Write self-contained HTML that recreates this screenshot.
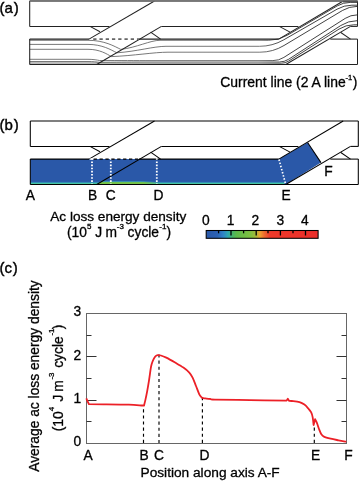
<!DOCTYPE html>
<html><head><meta charset="utf-8"><style>
html,body{margin:0;padding:0;background:#fff;}
body{width:359px;height:481px;overflow:hidden;font-family:"Liberation Sans",sans-serif;}
svg{display:block;}
#w{will-change:transform;width:359px;height:481px;}
</style></head><body><div id="w">
<svg width="359" height="481" viewBox="0 0 359 481">
<defs><linearGradient id="cl" gradientUnits="userSpaceOnUse" x1="0" y1="0" x2="359" y2="0"><stop offset="0" stop-color="#555"/><stop offset="0.72" stop-color="#555"/><stop offset="0.8" stop-color="#111"/><stop offset="1" stop-color="#111"/></linearGradient></defs>
<g stroke="url(#cl)" stroke-width="0.8" fill="none">
<path d="M29.7,40.3 L88,40.3 C104.4,40.3 114.2,46.2 120.8,49.4 C136.5,47.6 150.2,40.3 160,40.3 L268.7,40.3 Q278.7,40.3 287.4,35.2 L337.2,5.9 Q343.3,2.4 350.3,2.4 L357.5,2.4"/>
<path d="M29.7,44.4 L88,44.4 C102.4,44.4 111.0,49.9 116.8,52.8 C136.5,51.5 153.7,46.3 166,46.3 L259.5,46.3 Q272.5,46.3 283.8,39.8 L337.0,9.2 Q343.9,5.2 351.9,5.2 L357.5,5.2"/>
<path d="M29.7,49.3 L88,49.3 C99.8,49.3 106.8,54.0 111.5,56.6 C134.1,55.7 153.9,52.2 168,52.2 L259.9,52.2 Q272.9,52.2 284.0,45.5 L342.6,10.4 Q349.3,6.4 357.2,6.4 L357.5,6.4"/>
<path d="M29.7,59.3 L88,59.3 C93.8,59.3 97.2,60.1 99.5,60.5 C119.7,60.5 137.4,60.6 150,60.6 L272.9,60.6 Q278.9,60.6 283.9,57.4 L345.2,18.4 Q350.7,14.9 357.2,14.9 L357.5,14.9"/>
<path d="M29.7,61.5 L88,61.5 C93.5,61.5 96.8,62.0 99,62.3 C115.4,62.2 129.8,62.0 140,62.0 L279.4,62.0 Q284.4,62.0 288.6,59.3 L340.8,25.5 Q348.3,20.7 357.2,20.7 L357.5,20.7"/>
<path d="M29.7,63.0 L88,63.0 L170,63.2 L281.3,63.2 Q285.3,63.2 288.7,61.1 L339.0,29.1 Q345.8,24.8 353.8,24.8 L357.5,24.8"/>
</g>
<g stroke="#222" stroke-width="1.05" fill="none">
<line x1="29.7" y1="1.00" x2="357.5" y2="1.00"/>
<line x1="29.7" y1="1.00" x2="29.7" y2="26.40"/>
<line x1="29.7" y1="26.40" x2="109.5" y2="26.40"/>
<line x1="90" y1="26.40" x2="100" y2="31.80"/>
<line x1="89" y1="39.10" x2="154.5" y2="1.00"/>
<line x1="96.7" y1="64.45" x2="161.4" y2="26.40"/>
<line x1="161.4" y1="26.40" x2="298.4" y2="26.40"/>
<line x1="150.6" y1="32.10" x2="160.6" y2="39.10"/>
<line x1="29.7" y1="39.10" x2="29.7" y2="64.45"/>
<line x1="29.7" y1="64.45" x2="357.5" y2="64.45"/>
<line x1="29.7" y1="39.10" x2="89" y2="39.10"/>
<line x1="139" y1="39.10" x2="278.8" y2="39.10"/>
<line x1="279.3" y1="26.40" x2="290" y2="32.10"/>
<line x1="278.8" y1="39.10" x2="343.2" y2="1.00"/>
<line x1="285.8" y1="64.45" x2="350.5" y2="26.40"/>
<line x1="350.5" y1="26.40" x2="357.5" y2="26.40"/>
<line x1="357.5" y1="1.00" x2="357.5" y2="26.40"/>
<line x1="340.8" y1="32.50" x2="350.5" y2="39.10"/>
<line x1="330.3" y1="39.10" x2="357.5" y2="39.10"/>
<line x1="357.5" y1="39.10" x2="357.5" y2="64.45"/>
</g>
<line x1="93.2" y1="39.1" x2="139" y2="39.1" stroke="#666" stroke-width="1.7" stroke-dasharray="3.3 2.95"/>
<line x1="29.7" y1="0.85" x2="357.5" y2="0.85" stroke="#777" stroke-width="1.7"/>
<line x1="343" y1="1.6" x2="357.5" y2="1.6" stroke="#555" stroke-width="1.6"/>
<defs>
<linearGradient id="bot" x1="0" y1="0" x2="0" y2="1"><stop offset="0" stop-color="#2a58a8"/><stop offset="0.3" stop-color="#2c68b2"/><stop offset="0.55" stop-color="#33a2b6"/><stop offset="0.75" stop-color="#44c4a6"/><stop offset="1" stop-color="#4cc896"/></linearGradient>
<linearGradient id="cbar" x1="0" y1="0" x2="1" y2="0"><stop offset="0" stop-color="#2a58a8"/><stop offset="0.1" stop-color="#2c62b4"/><stop offset="0.15" stop-color="#3082c8"/><stop offset="0.195" stop-color="#2ea8b0"/><stop offset="0.235" stop-color="#48b468"/><stop offset="0.27" stop-color="#5cb84a"/><stop offset="0.4" stop-color="#80c040"/><stop offset="0.445" stop-color="#a8b838"/><stop offset="0.48" stop-color="#eea030"/><stop offset="0.52" stop-color="#f06a2e"/><stop offset="0.57" stop-color="#ee3a2a"/><stop offset="1" stop-color="#ec2d2a"/></linearGradient>
<linearGradient id="gv" x1="0" y1="0" x2="0" y2="1"><stop offset="0" stop-color="#2a58a8"/><stop offset="0.2" stop-color="#3a9ab4"/><stop offset="0.42" stop-color="#6cc050"/><stop offset="1" stop-color="#80c63e"/></linearGradient>
<linearGradient id="gfade" x1="0" y1="0" x2="1" y2="0"><stop offset="0" stop-color="#fff"/><stop offset="0.75" stop-color="#fff"/><stop offset="1" stop-color="#000"/></linearGradient>
<mask id="gm"><rect x="97" y="170" width="62" height="20" fill="url(#gfade)"/></mask>
</defs>
<polygon points="30.3,159.1 278.8,159.1 307.6,142.5 321,162.6 285.8,184.45 30.3,184.45" fill="#2a58a8"/>
<rect x="30.3" y="181.2" width="254.2" height="2.8" fill="url(#bot)"/>
<polygon mask="url(#gm)" points="96.7,184.45 101.4,180.9 140,181.1 152,181.6 160,182.3 160,184.45" fill="url(#gv)"/>
<g stroke="#000" stroke-width="1.05" fill="none">
<line x1="30.3" y1="121.00" x2="358.3" y2="121.00"/>
<line x1="30.3" y1="121.00" x2="30.3" y2="146.40"/>
<line x1="30.3" y1="146.40" x2="109.5" y2="146.40"/>
<line x1="90" y1="146.40" x2="100" y2="151.80"/>
<line x1="89" y1="159.10" x2="154.5" y2="121.00"/>
<line x1="96.7" y1="184.45" x2="161.4" y2="146.40"/>
<line x1="161.4" y1="146.40" x2="298.4" y2="146.40"/>
<line x1="150.6" y1="152.10" x2="160.6" y2="159.10"/>
<line x1="30.3" y1="159.10" x2="30.3" y2="184.45"/>
<line x1="30.3" y1="184.45" x2="358.3" y2="184.45"/>
<line x1="30.3" y1="159.10" x2="89" y2="159.10"/>
<line x1="139" y1="159.10" x2="278.8" y2="159.10"/>
<line x1="279.3" y1="146.40" x2="290" y2="152.10"/>
<line x1="278.8" y1="159.10" x2="343.2" y2="121.00"/>
<line x1="285.8" y1="184.45" x2="350.5" y2="146.40"/>
<line x1="350.5" y1="146.40" x2="358.3" y2="146.40"/>
<line x1="358.3" y1="121.00" x2="358.3" y2="146.40"/>
<line x1="340.8" y1="152.50" x2="350.5" y2="159.10"/>
<line x1="330.3" y1="159.10" x2="358.3" y2="159.10"/>
<line x1="358.3" y1="159.10" x2="358.3" y2="184.45"/>
<line x1="307.6" y1="142.5" x2="321" y2="162.6"/>
</g>
<g stroke="#fff" stroke-width="1.8" stroke-dasharray="1.6 1.55" fill="none">
<line x1="92.0" y1="158.25" x2="92.0" y2="184.05"/>
<line x1="110.8" y1="158.25" x2="110.8" y2="184.05"/>
<line x1="156.8" y1="158.25" x2="156.8" y2="184.05"/>
<line x1="279" y1="159.5" x2="285.6" y2="184.05" stroke-width="1.7" stroke-dasharray="1.5 1.75"/>
</g>
<line x1="89.6" y1="159.1" x2="93.6" y2="159.1" stroke="#fff" stroke-width="1.2"/>
<line x1="93.6" y1="159.04999999999998" x2="139" y2="159.04999999999998" stroke="#000" stroke-width="1.25" stroke-dasharray="3.3 2.6"/>
<g font-family="Liberation Sans, sans-serif" stroke="#000" stroke-width="0.3" font-size="15.0" fill="#000">
<text x="-0.4" y="12.6" stroke-width="0.4">(a<tspan dx="0.7">)</tspan></text>
<text x="-0.4" y="130.4" stroke-width="0.4">(b<tspan dx="0.7">)</tspan></text>
<text x="-0.4" y="272.8" stroke-width="0.4">(c<tspan dx="0.7">)</tspan></text>
</g>
<g font-family="Liberation Sans, sans-serif" stroke="#000" stroke-width="0.3" font-size="13.8" fill="#000">
<text><tspan x="220.20" y="87.00" font-size="13.95">Current line (2 A line</tspan><tspan x="345.55" y="79.60" font-size="7.6">-1</tspan><tspan x="352.80" y="87.00" font-size="13.8">)</tspan></text>
<text x="25.8" y="199.8" >A</text>
<text x="88.0" y="199.8" >B</text>
<text x="105.8" y="199.8" >C</text>
<text x="153.4" y="199.8" >D</text>
<text x="281.4" y="199.8" >E</text>
<text x="324.3" y="175.6" >F</text>
<text x="50.25" y="220.6" font-size="13.6">Ac loss energy density</text>
<text><tspan x="66.95" y="237.20" font-size="13.8">(10</tspan><tspan x="87.05" y="229.20" font-size="8">5</tspan><tspan x="95.20" y="237.20" font-size="13.8">J</tspan><tspan x="105.50" y="237.20" font-size="13.8">m</tspan><tspan x="116.85" y="229.20" font-size="8">-3</tspan><tspan x="127.60" y="237.20" font-size="13.8">cycle</tspan><tspan x="159.25" y="229.20" font-size="8">-1</tspan><tspan x="166.60" y="237.20" font-size="13.8">)</tspan></text>
<text x="205.9" y="225.1" text-anchor="middle">0</text>
<text x="230.5" y="225.1" text-anchor="middle">1</text>
<text x="255.4" y="225.1" text-anchor="middle">2</text>
<text x="280.3" y="225.1" text-anchor="middle">3</text>
<text x="304.9" y="225.1" text-anchor="middle">4</text>
</g>
<rect x="206.2" y="230.5" width="111.9" height="7.8" fill="url(#cbar)" stroke="#000" stroke-width="1.05"/>
<g stroke="#000" stroke-width="1">
<line x1="218.6" y1="231" x2="218.6" y2="233.3" stroke-width="1.3"/>
<line x1="231" y1="231" x2="231" y2="235.5" stroke-width="1.3"/>
<line x1="243.6" y1="231" x2="243.6" y2="233.3" stroke-width="1.3"/>
<line x1="256.2" y1="231" x2="256.2" y2="235.5" stroke-width="1.3"/>
<line x1="268" y1="231" x2="268" y2="233.3" stroke-width="1.3"/>
<line x1="280.4" y1="231" x2="280.4" y2="235.5" stroke-width="1.3"/>
<line x1="293" y1="231" x2="293" y2="233.3" stroke-width="1.3"/>
<line x1="305.5" y1="231" x2="305.5" y2="235.5" stroke-width="1.3"/>
</g>
<rect x="86.5" y="313.5" width="260.0" height="130.0" fill="none" stroke="#666" stroke-width="1"/>
<g stroke="#333" stroke-width="1">
<line x1="86.5" y1="421.5" x2="91.5" y2="421.5"/>
<line x1="346.5" y1="421.5" x2="341.5" y2="421.5"/>
<line x1="86.5" y1="400.5" x2="96.5" y2="400.5"/>
<line x1="346.5" y1="400.5" x2="336.5" y2="400.5"/>
<line x1="86.5" y1="378.5" x2="91.5" y2="378.5"/>
<line x1="346.5" y1="378.5" x2="341.5" y2="378.5"/>
<line x1="86.5" y1="356.5" x2="96.5" y2="356.5"/>
<line x1="346.5" y1="356.5" x2="336.5" y2="356.5"/>
<line x1="86.5" y1="335.5" x2="91.5" y2="335.5"/>
<line x1="346.5" y1="335.5" x2="341.5" y2="335.5"/>
</g>
<g stroke-width="1.15" stroke-dasharray="3.1 3.0">
<line x1="143.5" y1="409.3" x2="143.5" y2="443.0" stroke="#000"/>
<line x1="159.0" y1="354.5" x2="159.0" y2="443.0" stroke="#000"/>
<line x1="202.4" y1="397.1" x2="202.4" y2="443.0" stroke="#000"/>
<line x1="314.3" y1="427.6" x2="314.3" y2="443.0" stroke="#000"/>
</g>
<path fill="none" stroke="#ec2027" stroke-width="1.8" stroke-linejoin="round" d="M86.3,398.4 C86.73,399.37 88.47,403.23 88.9,404.2 C91.33,404.22 96.85,404.22 103.5,404.3 C110.15,404.38 122.30,404.50 128.8,404.7 C135.30,404.90 139.97,405.37 142.5,405.5 C145.03,405.63 143.75,405.50 144.0,405.5 C144.23,404.57 144.87,402.30 145.4,399.9 C145.93,397.50 146.58,394.43 147.2,391.1 C147.82,387.77 148.52,383.63 149.1,379.9 C149.68,376.17 150.27,371.35 150.7,368.7 C151.13,366.05 151.23,365.55 151.7,364.0 C152.17,362.45 152.88,360.68 153.5,359.4 C154.12,358.12 154.68,357.00 155.4,356.3 C156.12,355.60 156.88,355.33 157.8,355.2 C158.72,355.07 159.48,355.10 160.9,355.5 C162.32,355.90 163.93,356.43 166.3,357.6 C168.67,358.77 172.25,360.83 175.1,362.5 C177.95,364.17 181.03,365.92 183.4,367.6 C185.77,369.28 187.77,370.93 189.3,372.6 C190.83,374.27 191.48,375.37 192.6,377.6 C193.72,379.83 194.88,383.22 196.0,386.0 C197.12,388.78 198.33,392.37 199.3,394.3 C200.27,396.23 201.38,397.05 201.8,397.6 C202.37,397.73 203.83,398.17 205.2,398.4 C206.57,398.63 208.37,398.80 210,399.0 C211.63,399.20 208.33,399.42 215,399.6 C221.67,399.78 238.07,399.93 250,400.1 C261.93,400.27 280.50,400.52 286.6,400.6 C286.80,400.30 287.60,399.10 287.8,398.8 C288.00,399.13 288.80,400.47 289.0,400.8 C289.45,400.83 289.95,400.78 291.7,401.0 C293.45,401.22 297.38,401.50 299.5,402.1 C301.62,402.70 302.93,403.53 304.4,404.6 C305.87,405.67 307.17,407.20 308.3,408.5 C309.43,409.80 310.47,410.93 311.2,412.4 C311.93,413.87 312.30,415.20 312.7,417.3 C313.10,419.40 313.45,423.72 313.6,425.0 C313.85,424.03 314.85,420.17 315.1,419.2 C315.42,419.85 316.35,421.47 317,423.1 C317.65,424.73 318.28,427.15 319,429 C319.72,430.85 320.48,432.93 321.3,434.2 C322.12,435.47 322.33,435.85 323.9,436.6 C325.47,437.35 328.27,438.08 330.7,438.7 C333.13,439.32 335.90,439.80 338.5,440.3 C341.10,440.80 345.00,441.47 346.3,441.7"/>
<g font-family="Liberation Sans, sans-serif" stroke="#000" stroke-width="0.3" font-size="13.8" fill="#000">
<text x="81.3" y="446.4" text-anchor="end">0</text>
<text x="81.3" y="403.06666666666666" text-anchor="end">1</text>
<text x="81.3" y="359.7333333333333" text-anchor="end">2</text>
<text x="81.3" y="316.4" text-anchor="end">3</text>
<text x="83.5" y="460.0" >A</text>
<text x="139.6" y="460.0" >B</text>
<text x="154.1" y="460.0" >C</text>
<text x="199.4" y="460.0" >D</text>
<text x="311.1" y="460.0" >E</text>
<text x="344.2" y="460.0" >F</text>
<text x="140.5" y="476.5" font-size="13.7">Position along axis A-F</text>
<g transform="translate(38.8,471.8) rotate(-90)"><text x="0" y="0">Average ac loss energy density</text></g>
<g transform="translate(0,430.5) rotate(-90)"><text><tspan x="-0.85" y="63.10" font-size="13.8">(10</tspan><tspan x="19.20" y="54.10" font-size="8">4</tspan><tspan x="28.90" y="63.10" font-size="13.8">J</tspan><tspan x="38.70" y="63.10" font-size="13.8">m</tspan><tspan x="50.95" y="54.10" font-size="8">-3</tspan><tspan x="62.70" y="63.10" font-size="13.8">cycle</tspan><tspan x="94.95" y="54.10" font-size="8">-1</tspan><tspan x="101.30" y="63.10" font-size="13.8">)</tspan></text></g>
</g>
</svg>
</div></body></html>
